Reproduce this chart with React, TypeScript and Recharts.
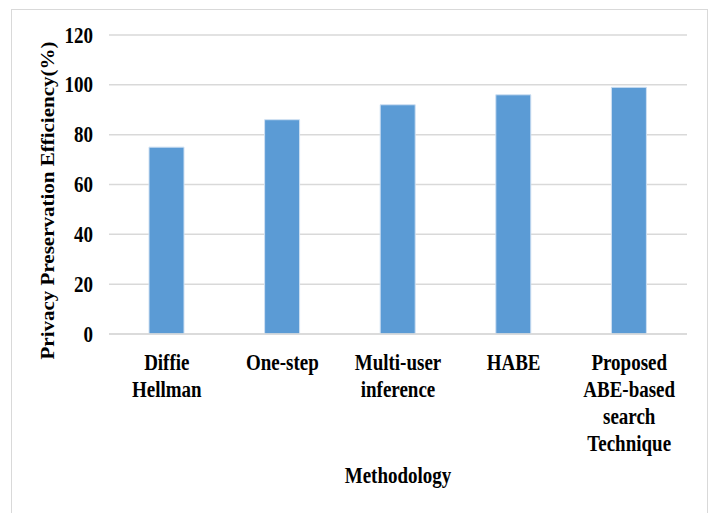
import React from 'react';
import { BarChart, Bar, XAxis, YAxis, CartesianGrid } from 'recharts';

// Methods compared and their privacy preservation efficiency (%)
const categories = [
  'Diffie Hellman',
  'One-step',
  'Multi-user inference',
  'HABE',
  'Proposed ABE-based search Technique',
];
const categoryLines = [
  ['Diffie', 'Hellman'],
  ['One-step'],
  ['Multi-user', 'inference'],
  ['HABE'],
  ['Proposed', 'ABE-based', 'search', 'Technique'],
];
const efficiency = [75, 86, 92, 96, 99];
const yTicks = [0, 20, 40, 60, 80, 100, 120];

const data = categories.map((name, i) => ({ name, value: efficiency[i] }));

const FONT = '"Liberation Serif", "Times New Roman", serif';
const STRETCH = 1.18; // glyphs are drawn slightly tall and narrow

const XTick = (props: any) => {
  const { x, y, payload } = props;
  const idx = categories.indexOf(payload.value);
  const lines = idx >= 0 ? categoryLines[idx] : [String(payload.value)];
  return (
    <g transform={`translate(${x},${y}) scale(1,${STRETCH})`}>
      <text
        textAnchor="middle"
        fontFamily={FONT}
        fontWeight="bold"
        fontSize={19}
        fill="#000"
      >
        {lines.map((ln: string, i: number) => (
          <tspan key={i} x={0} y={36 / STRETCH + i * (27 / STRETCH)}>
            {ln}
          </tspan>
        ))}
      </text>
    </g>
  );
};

const YTick = (props: any) => {
  const { x, y, payload } = props;
  return (
    <g transform={`translate(${x},${y}) scale(1,${STRETCH})`}>
      <text
        x={0}
        y={7.5 / STRETCH}
        textAnchor="end"
        fontFamily={FONT}
        fontWeight="bold"
        fontSize={19}
        fill="#000"
      >
        {payload.value}
      </text>
    </g>
  );
};

const YLabel = (props: any) => {
  const { viewBox } = props;
  const cy = viewBox.y + viewBox.height / 2 + 16;
  const bx = 54;
  return (
    <text
      x={bx}
      y={cy}
      transform={`rotate(-90, ${bx}, ${cy})`}
      textAnchor="middle"
      fontFamily={FONT}
      fontWeight="bold"
      fontSize={19}
      fill="#000"
      textLength={318}
      lengthAdjust="spacingAndGlyphs"
    >
      Privacy Preservation Efficiency(%)
    </text>
  );
};

const XLabel = (props: any) => {
  const { viewBox } = props;
  const cx = viewBox.x + viewBox.width / 2;
  const by = viewBox.y + 149;
  return (
    <g transform={`translate(${cx},${by}) scale(1,${STRETCH})`}>
      <text
        x={0}
        y={0}
        textAnchor="middle"
        fontFamily={FONT}
        fontWeight="bold"
        fontSize={19}
        fill="#000"
      >
        Methodology
      </text>
    </g>
  );
};

export default function App() {
  return (
    <div
      style={{
        position: 'fixed',
        left: 0,
        top: 0,
        width: 709,
        height: 513,
        overflow: 'hidden',
        background: '#fff',
      }}
    >
      <div
        style={{
          position: 'absolute',
          left: 11,
          top: 9,
          width: 697,
          height: 520,
          border: '1px solid #d9d9d9',
          boxSizing: 'border-box',
        }}
      />
      <div style={{ position: 'absolute', left: 0, top: 0 }}>
        <BarChart
          width={709}
          height={513}
          data={data}
          margin={{ top: 35, right: 22, bottom: 0, left: 0 }}
        >
          <CartesianGrid
            vertical={false}
            stroke="#d9d9d9"
            strokeWidth={1.5}
          />
          <XAxis
            dataKey="name"
            height={179}
            axisLine={{ stroke: '#d9d9d9', strokeWidth: 1.5 }}
            tickLine={false}
            tickSize={0}
            tickMargin={0}
            interval={0}
            tick={<XTick />}
            label={<XLabel />}
          />
          <YAxis
            width={109}
            domain={[0, 120]}
            ticks={yTicks}
            axisLine={false}
            tickLine={false}
            tickSize={0}
            tickMargin={16}
            tick={<YTick />}
            label={<YLabel />}
          />
          <Bar
            dataKey="value"
            fill="#5b9bd5"
            stroke="#cfe0f2"
            strokeWidth={1}
            barSize={35}
            isAnimationActive={false}
          />
        </BarChart>
      </div>
    </div>
  );
}
